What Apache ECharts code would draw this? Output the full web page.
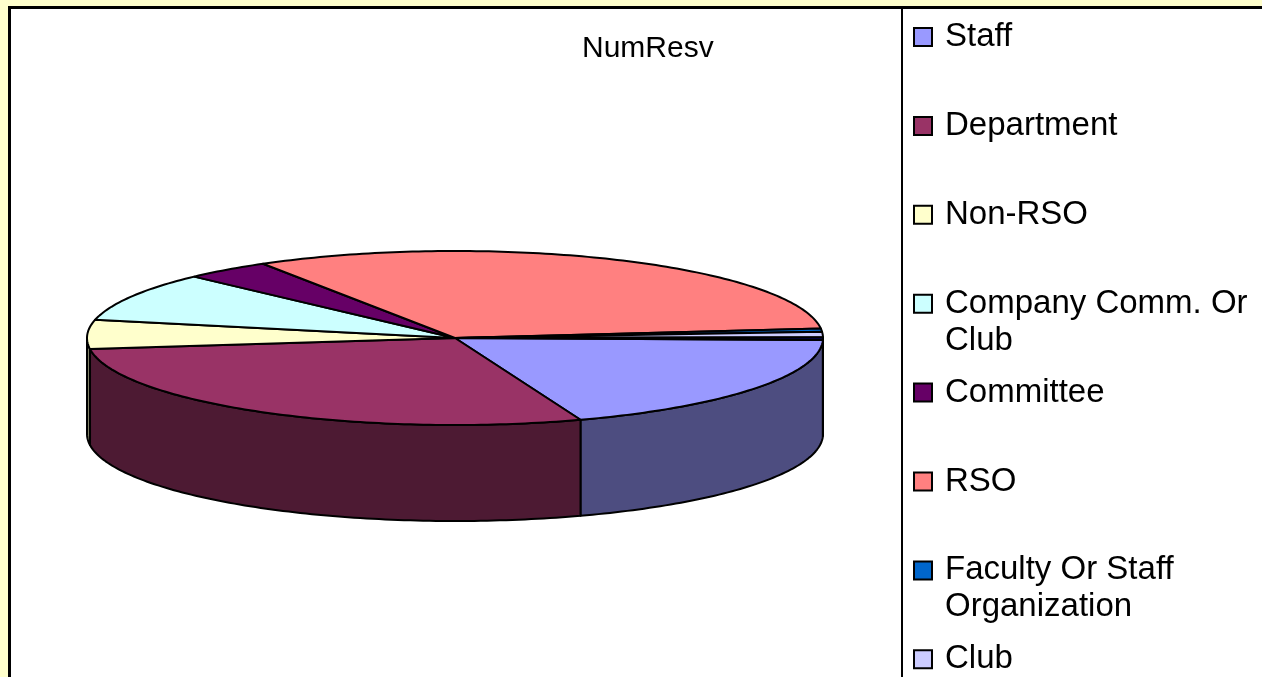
<!DOCTYPE html>
<html>
<head>
<meta charset="UTF-8">
<title>NumResv</title>
<script src="https://cdn.jsdelivr.net/npm/echarts@6/dist/echarts.min.js"></script>
<style>
  html, body { margin: 0; padding: 0; background: #ffffcc; }
  #chart { width: 1262px; height: 677px; }
</style>
</head>
<body>
<div id="chart"></div>
<script>
// number of reservations by requester type
const categories = ['Staff', 'Department', 'Non-RSO', 'Company Comm. Or Club', 'Committee', 'RSO',
  'Faculty Or Staff Organization', 'Club', 'Other'];
const numResv = [191, 285, 54, 91, 38, 320, 6, 10, 5];
const colors = ['#9999ff', '#993366', '#ffffcc', '#ccffff', '#660066', '#ff8080', '#0066cc', '#ccccff', '#000080'];
// legend text as it wraps in the legend box (last category is cut off below the frame)
const legendLabels = ['Staff', 'Department', 'Non-RSO', 'Company Comm. Or\nClub', 'Committee', 'RSO',
  'Faculty Or Staff\nOrganization', 'Club'];

// flattened 3d pie geometry
const CX = 455, CY = 338, RX = 368, RY = 87, DEPTH = 96, START = 1.3;
const total = numResv.reduce((a, b) => a + b, 0);

function sliceRange(i) {
  let before = 0;
  for (let k = 0; k < i; k++) before += numResv[k];
  const a = START + before / total * 360;
  return [a, a + numResv[i] / total * 360];
}

function pt(deg, dy) {
  const t = deg * Math.PI / 180;
  return [CX + RX * Math.cos(t), CY + RY * Math.sin(t) + dy];
}

function arc(a, b, dy) {
  const pts = [];
  const n = Math.max(2, Math.ceil(b - a));
  for (let k = 0; k <= n; k++) pts.push(pt(a + (b - a) * k / n, dy));
  return pts;
}

function darken(hex, f) {
  const n = parseInt(hex.slice(1), 16);
  const r = Math.round(((n >> 16) & 255) * f), g = Math.round(((n >> 8) & 255) * f), b = Math.round((n & 255) * f);
  return 'rgb(' + r + ',' + g + ',' + b + ')';
}

function renderSlice(i) {
  return function (params, api) {
    const [a, b] = sliceRange(i);
    const children = [];
    // only the front half of the rim is visible
    [[0, 180], [360, 540]].forEach(([lo, hi]) => {
      const s = Math.max(a, lo), e = Math.min(b, hi);
      if (e > s) {
        const pts = arc(s, e, 0).concat(arc(s, e, DEPTH).reverse());
        children.push({
          type: 'polygon', z2: 1, shape: { points: pts },
          style: { fill: darken(colors[i], 0.5), stroke: '#000', lineWidth: 2, lineJoin: 'round' }
        });
      }
    });
    children.push({
      type: 'polygon', z2: 5, shape: { points: [[CX, CY]].concat(arc(a, b, 0)) },
      style: { fill: colors[i], stroke: '#000', lineWidth: 2, lineJoin: 'round' }
    });
    return { type: 'group', children: children };
  };
}

const series = categories.map((name, i) => ({
  type: 'custom',
  name: name,
  coordinateSystem: 'none',
  silent: true,
  itemStyle: { color: colors[i] },
  data: [numResv[i]],
  renderItem: renderSlice(i)
}));

// one legend per entry so every entry keeps its own row,
// wrapped entries get a blank line on top so the first line sits by the icon
const LEGEND_Y0 = 37, LEGEND_STEP = 88.9, LINE_H = 37;
const legends = legendLabels.map((label, i) => {
  const twoLine = label.indexOf('\n') >= 0;
  return {
    orient: 'vertical',
    left: 913,
    top: LEGEND_Y0 + i * LEGEND_STEP - (twoLine ? LINE_H * 1.5 : LINE_H / 2),
    padding: 0,
    data: [categories[i]],
    icon: 'rect',
    itemWidth: 18,
    itemHeight: 18,
    selectedMode: false,
    formatter: () => (twoLine ? ' \n' + label : label),
    itemStyle: { borderColor: '#000', borderWidth: 2 },
    textStyle: {
      fontFamily: 'Liberation Sans', fontSize: 33, color: '#000', lineHeight: LINE_H,
      padding: [0, 0, 0, 8]
    }
  };
});

const chart = echarts.init(document.getElementById('chart'), null, { renderer: 'canvas' });
chart.setOption({
  backgroundColor: '#ffffcc',
  animation: false,
  title: {
    text: 'NumResv',
    left: 582,
    top: 34,
    padding: 0,
    textStyle: { fontFamily: 'Liberation Sans', fontSize: 30, fontWeight: 'normal', color: '#000' }
  },
  legend: legends,
  graphic: [
    {
      type: 'rect', z: 0, silent: true,
      shape: { x: 9.5, y: 7.5, width: 1300, height: 700 },
      style: { fill: '#fff', stroke: '#000', lineWidth: 3 }
    },
    {
      type: 'line', z: 0, silent: true,
      shape: { x1: 902, y1: 9, x2: 902, y2: 700 },
      style: { stroke: '#000', lineWidth: 2 }
    }
  ],
  series: series
});
</script>
</body>
</html>
